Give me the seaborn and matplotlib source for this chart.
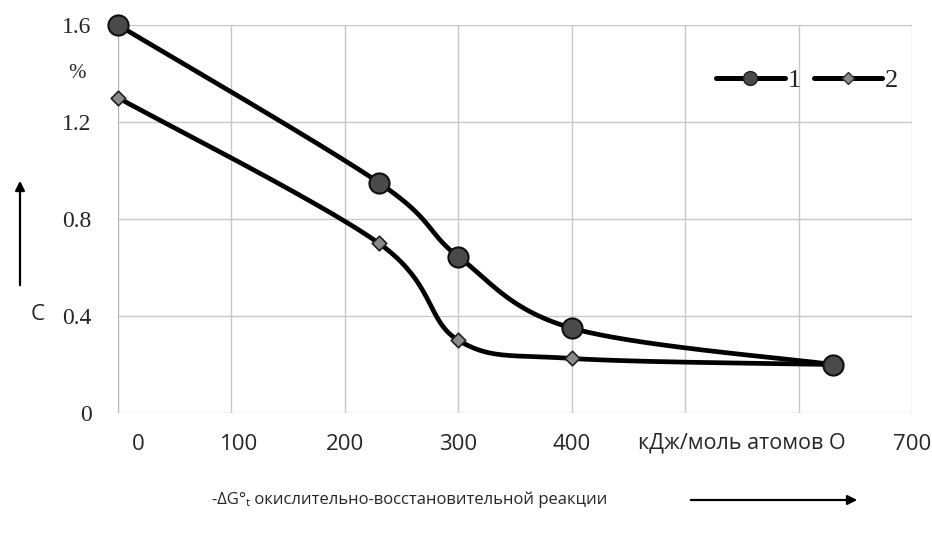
import numpy as np
import pandas as pd
import seaborn as sns
import matplotlib.pyplot as plt
import matplotlib.transforms as mtransforms
from matplotlib.lines import Line2D

# data
dg = [0, 230, 300, 400, 630]
c1 = [1.60, 0.95, 0.645, 0.35, 0.20]
c2 = [1.30, 0.70, 0.30, 0.225, 0.20]
series_names = ['1', '2']
xtick_vals = [0, 100, 200, 300, 400, 500, 600, 700]
xtick_text = ['0', '100', '200', '300', '400', '', '', '700']
ytick_vals = [0, 0.4, 0.8, 1.2, 1.6]
ytick_text = ['0', '0.4', '0.8', '1.2', '1.6']

W, H = 932, 533
L, R, B, T = 118, 912, 413, 25


def smooth(xs, ys, sx, sy, n=40):
    # Excel-like smoothed line (Catmull-Rom style bezier)
    p = np.column_stack([np.array(xs) * sx, np.array(ys) * sy])
    p = np.vstack([p[0], p, p[-1]])
    out = []
    for i in range(1, len(p) - 2):
        p0, p1, p2, p3 = p[i - 1], p[i], p[i + 1], p[i + 2]
        b1 = p1 + (p2 - p0) / 6
        b2 = p2 - (p3 - p1) / 6
        t = np.linspace(0, 1, n)[:, None]
        seg = (1 - t) ** 3 * p1 + 3 * (1 - t) ** 2 * t * b1 + 3 * (1 - t) * t ** 2 * b2 + t ** 3 * p2
        out.append(seg if i == 1 else seg[1:])
    out = np.vstack(out)
    return out[:, 0] / sx, out[:, 1] / sy


sns.set_style('white')
plt.rcParams['font.family'] = ['Open Sans', 'DejaVu Sans']

fig = plt.figure(figsize=(W / 100, H / 100), dpi=100)
ax = fig.add_axes([L / W, 1 - B / H, (R - L) / W, (B - T) / H])

sx, sy = (R - L) / 700, (B - T) / 1.6
rows = []
for name, vals in zip(series_names, [c1, c2]):
    xs, ys = smooth(dg, vals, sx, sy)
    rows.append(pd.DataFrame({'x': xs, 'y': ys, 'series': name}))
curves = pd.concat(rows, ignore_index=True)

sns.lineplot(data=curves, x='x', y='y', units='series', estimator=None, sort=False,
             color='black', linewidth=3.4, ax=ax, legend=False, zorder=3)
for ln in ax.lines:
    ln.set_clip_on(False)

pts = pd.DataFrame({'x': dg * 2, 'y': c2 + c1,
                    'series': ['2'] * len(dg) + ['1'] * len(dg)})
sns.scatterplot(data=pts[pts.series == '2'], x='x', y='y', marker='D', s=55,
                color='#8a8a8a', edgecolor='#202020', linewidth=1.2, ax=ax,
                zorder=4, clip_on=False, legend=False)
sns.scatterplot(data=pts[pts.series == '1'], x='x', y='y', marker='o', s=210,
                color='#4a4a4a', edgecolor='#101010', linewidth=1.5, ax=ax,
                zorder=5, clip_on=False, legend=False)

ax.set_xlim(0, 700)
ax.set_ylim(0, 1.6)
ax.set_xticks(xtick_vals)
ax.set_xticklabels(xtick_text, fontsize=16)
ax.set_yticks(ytick_vals)
ax.set_yticklabels(ytick_text, fontsize=17, family='Liberation Serif')
ax.tick_params(axis='x', length=0, pad=15)
ax.tick_params(axis='y', length=0, pad=19)
ax.set_xlabel('')
ax.set_ylabel('')
ax.grid(True, color='#c8c8c8', linewidth=1)
for s in ax.spines.values():
    s.set_visible(False)
ax.axvline(0, color='#b0b0b0', linewidth=1.2, zorder=1)

# shift the first tick labels a bit like the original
labels = ax.get_xticklabels()
labels[0].set_transform(labels[0].get_transform() + mtransforms.ScaledTranslation(0.2, 0, fig.dpi_scale_trans))
labels[1].set_transform(labels[1].get_transform() + mtransforms.ScaledTranslation(0.08, 0, fig.dpi_scale_trans))

ax.text(550, -0.125, 'кДж/моль атомов О', fontsize=15.5, ha='center', va='center',
        transform=ax.transData, clip_on=False)
ax.text(-0.052, 1.4, '%', fontsize=15, family='Liberation Serif', ha='center', va='center',
        transform=ax.get_yaxis_transform())

# left axis caption with arrow
fig.text(38 / W, 1 - 315 / H, 'C', fontsize=16, ha='center', va='center')
fig.add_artist(plt.Annotation('', xy=(20 / W, 1 - 178 / H), xytext=(20 / W, 1 - 288 / H),
                              xycoords='figure fraction',
                              arrowprops=dict(arrowstyle='-|>', color='black', lw=1.6,
                                              mutation_scale=14)))

# bottom caption with arrow
fig.text(212 / W, 1 - 500 / H, '-ΔG°ₜ окислительно-восстановительной реакции',
         fontsize=12, ha='left', va='center')
fig.add_artist(plt.Annotation('', xy=(860 / W, 1 - 500 / H), xytext=(688 / W, 1 - 500 / H),
                              xycoords='figure fraction',
                              arrowprops=dict(arrowstyle='-|>', color='black', lw=1.6,
                                              mutation_scale=14)))

handles = [Line2D([], [], color='black', lw=3.6, marker='o', markersize=10,
                  markerfacecolor='#4a4a4a', markeredgecolor='#202020'),
           Line2D([], [], color='black', lw=3.6, marker='D', markersize=6,
                  markerfacecolor='#8a8a8a', markeredgecolor='#303030')]
fig.legend(handles, series_names, ncol=2, frameon=False,
           prop={'family': 'Liberation Serif', 'size': 19},
           loc='center right', bbox_to_anchor=(922 / W, 1 - 80 / H),
           handlelength=2.6, handletextpad=0.1, columnspacing=0.5)

fig.savefig('out.png', dpi=100)
